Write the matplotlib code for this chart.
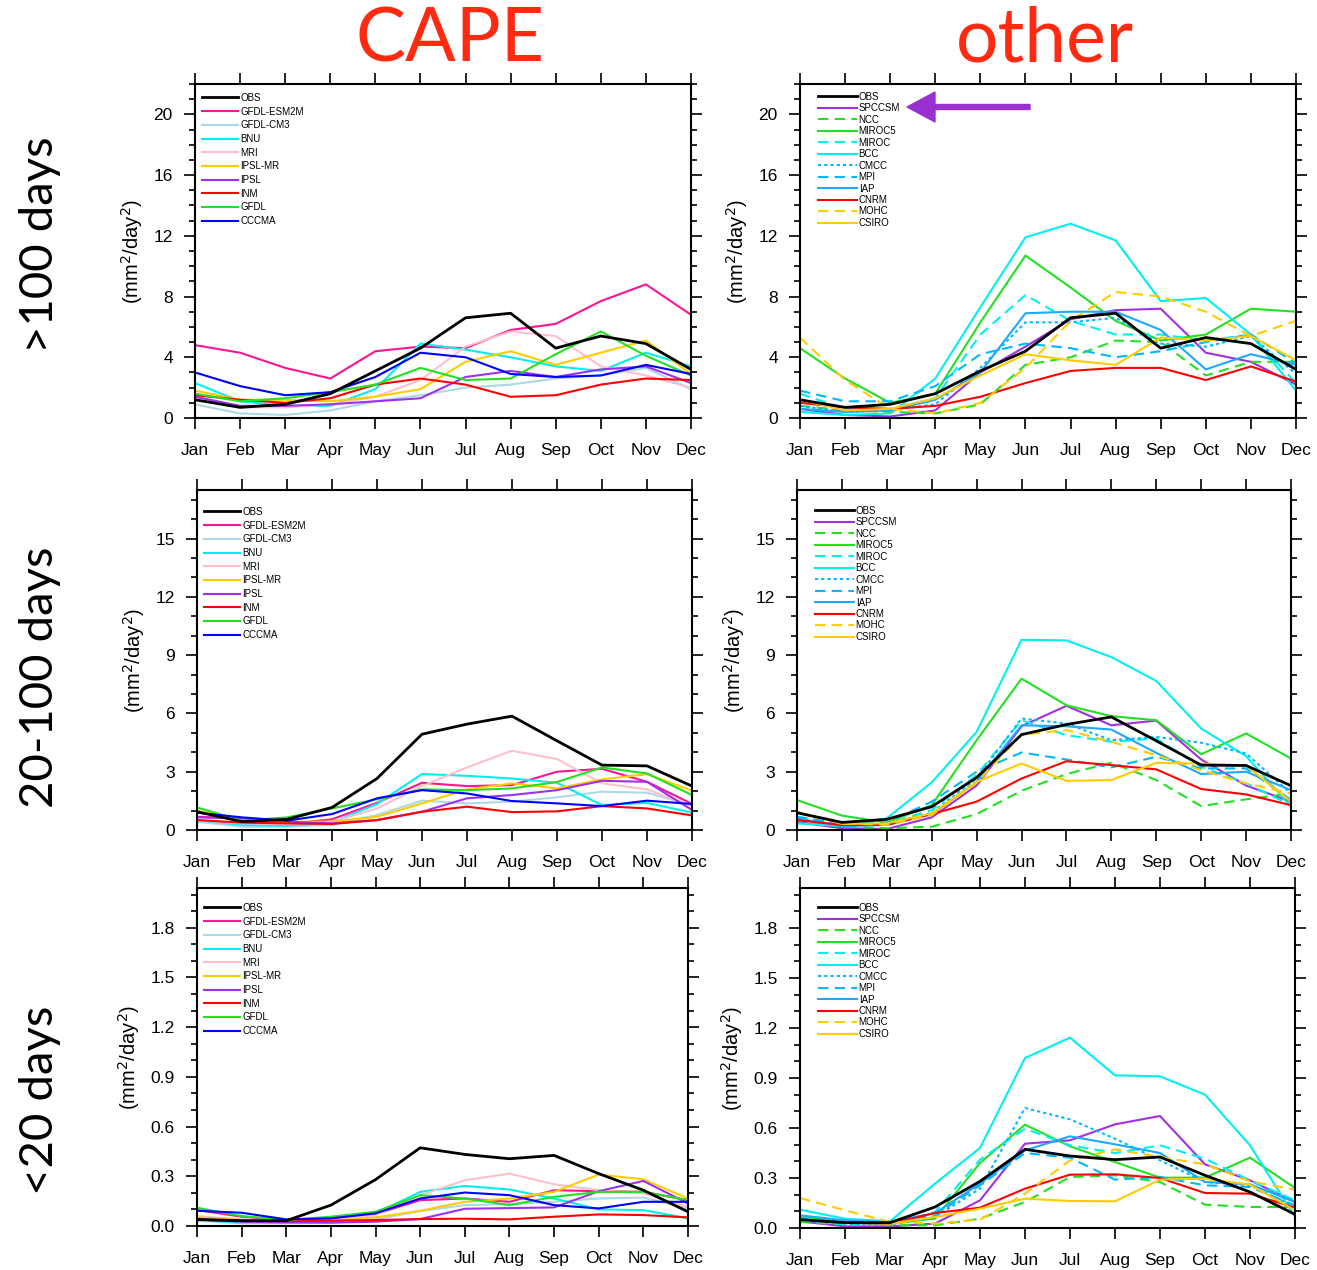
import numpy as np
import matplotlib.pyplot as plt
from matplotlib.ticker import MultipleLocator

months = ["Jan", "Feb", "Mar", "Apr", "May", "Jun", "Jul", "Aug", "Sep", "Oct", "Nov", "Dec"]

# ---- CAPE models, >100 days
cape_long = {
    "OBS":        [1.2, 0.7, 0.9, 1.6, 3.1, 4.6, 6.6, 6.9, 4.6, 5.4, 4.9, 3.2],
    "GFDL-ESM2M": [4.8, 4.3, 3.3, 2.6, 4.4, 4.7, 4.6, 5.8, 6.2, 7.7, 8.8, 6.8],
    "GFDL-CM3":   [0.9, 0.3, 0.2, 0.5, 1.1, 1.5, 2.0, 2.2, 2.6, 2.8, 3.3, 1.9],
    "BNU":        [2.3, 1.1, 0.8, 0.8, 1.9, 4.9, 4.5, 4.0, 3.4, 3.1, 4.3, 3.4],
    "MRI":        [1.4, 0.7, 0.7, 0.9, 1.4, 2.5, 4.7, 5.7, 5.4, 3.4, 2.8, 2.0],
    "IPSL-MR":    [1.8, 1.2, 1.2, 1.1, 1.4, 1.9, 3.7, 4.4, 3.5, 4.3, 5.1, 2.9],
    "IPSL":       [1.4, 0.8, 0.8, 0.9, 1.1, 1.3, 2.7, 3.1, 2.7, 3.2, 3.4, 2.3],
    "INM":        [1.5, 1.2, 1.0, 1.3, 2.2, 2.6, 2.2, 1.4, 1.5, 2.2, 2.6, 2.5],
    "GFDL":       [1.6, 1.1, 1.3, 1.7, 2.2, 3.3, 2.5, 2.6, 4.2, 5.7, 4.1, 2.8],
    "CCCMA":      [3.0, 2.1, 1.5, 1.7, 2.7, 4.3, 4.0, 2.9, 2.7, 2.8, 3.5, 2.9],
}
# ---- other models, >100 days
other_long = {
    "OBS":    [1.2, 0.7, 0.9, 1.6, 3.1, 4.4, 6.6, 6.9, 4.6, 5.3, 4.9, 3.2],
    "SPCCSM": [0.6, 0.2, 0.1, 0.5, 3.0, 4.7, 6.5, 7.1, 7.2, 4.3, 3.7, 2.2],
    "NCC":    [0.8, 0.5, 0.4, 0.3, 0.9, 3.5, 4.0, 5.1, 5.0, 2.8, 3.7, 3.7],
    "MIROC5": [4.6, 2.6, 1.0, 1.6, 6.3, 10.7, 8.6, 6.4, 5.1, 5.5, 7.2, 7.0],
    "MIROC":  [1.6, 0.6, 0.6, 1.3, 5.5, 8.1, 6.4, 5.5, 5.5, 5.1, 5.5, 2.3],
    "BCC":    [0.4, 0.2, 0.3, 2.6, 7.3, 11.9, 12.8, 11.7, 7.7, 7.9, 5.5, 1.8],
    "CMCC":   [0.8, 0.4, 0.5, 0.9, 3.3, 6.3, 6.3, 6.6, 4.9, 4.7, 5.4, 2.9],
    "MPI":    [1.8, 1.1, 1.1, 2.1, 4.2, 4.9, 4.6, 4.0, 4.4, 5.0, 5.5, 3.6],
    "IAP":    [0.6, 0.4, 0.5, 1.2, 3.0, 6.9, 7.0, 7.0, 5.8, 3.2, 4.2, 3.5],
    "CNRM":   [1.0, 0.7, 0.6, 0.8, 1.4, 2.3, 3.1, 3.3, 3.3, 2.5, 3.4, 2.4],
    "MOHC":   [5.3, 2.5, 0.6, 0.3, 1.0, 3.3, 6.4, 8.3, 8.0, 7.0, 5.4, 6.4],
    "CSIRO":  [1.2, 0.5, 0.6, 1.3, 2.8, 4.2, 3.8, 3.5, 5.3, 5.1, 5.4, 3.8],
}

# ---- 20-100 days
cape_mid = {
    "OBS":        [0.94, 0.43, 0.55, 1.16, 2.65, 4.93, 5.45, 5.86, 4.59, 3.34, 3.30, 2.26],
    "GFDL-ESM2M": [0.68, 0.60, 0.31, 0.55, 1.40, 2.43, 2.26, 2.31, 3.00, 3.15, 2.48, 1.34],
    "GFDL-CM3":   [0.43, 0.17, 0.17, 0.26, 0.77, 1.51, 1.37, 1.46, 1.68, 1.97, 1.92, 1.28],
    "BNU":        [0.51, 0.26, 0.22, 0.38, 1.34, 2.88, 2.79, 2.65, 2.43, 1.28, 1.40, 0.89],
    "MRI":        [0.51, 0.34, 0.31, 0.43, 1.11, 2.26, 3.22, 4.08, 3.65, 2.40, 2.09, 1.23],
    "IPSL-MR":    [0.99, 0.51, 0.43, 0.43, 0.68, 1.37, 2.09, 2.40, 2.14, 2.60, 2.88, 2.02],
    "IPSL":       [0.65, 0.60, 0.43, 0.34, 0.51, 0.94, 1.63, 1.80, 2.05, 2.53, 2.48, 1.03],
    "INM":        [0.51, 0.38, 0.34, 0.31, 0.51, 0.94, 1.20, 0.92, 0.96, 1.23, 1.11, 0.75],
    "GFDL":       [1.16, 0.48, 0.65, 1.11, 1.58, 2.09, 2.05, 2.14, 2.47, 3.22, 2.91, 1.80],
    "CCCMA":      [0.89, 0.65, 0.48, 0.82, 1.63, 2.05, 1.88, 1.49, 1.37, 1.23, 1.51, 1.34],
}
other_mid = {
    "OBS":    [0.89, 0.39, 0.55, 1.20, 2.70, 4.91, 5.43, 5.82, 4.59, 3.34, 3.32, 2.28],
    "SPCCSM": [0.41, 0.09, 0.05, 0.65, 2.29, 5.34, 6.39, 5.39, 5.63, 3.63, 2.29, 1.46],
    "NCC":    [0.51, 0.17, 0.09, 0.17, 0.82, 2.02, 2.88, 3.46, 2.57, 1.23, 1.58, 1.88],
    "MIROC5": [1.54, 0.74, 0.38, 1.28, 4.62, 7.79, 6.42, 5.86, 5.65, 3.90, 4.97, 3.68],
    "MIROC":  [0.68, 0.31, 0.31, 1.03, 2.83, 5.65, 4.88, 4.54, 4.71, 3.25, 2.40, 1.28],
    "BCC":    [0.34, 0.20, 0.60, 2.45, 5.05, 9.79, 9.76, 8.90, 7.67, 5.22, 3.80, 1.20],
    "CMCC":   [0.55, 0.26, 0.31, 0.89, 2.65, 5.74, 5.48, 4.62, 4.79, 4.49, 3.94, 1.88],
    "MPI":    [0.68, 0.31, 0.38, 1.46, 3.00, 3.99, 3.63, 3.22, 3.77, 3.17, 3.17, 1.54],
    "IAP":    [0.60, 0.20, 0.26, 0.82, 2.48, 5.39, 5.34, 5.17, 3.97, 2.88, 3.00, 2.05],
    "CNRM":   [0.51, 0.26, 0.26, 0.82, 1.46, 2.65, 3.54, 3.34, 3.12, 2.11, 1.83, 1.28],
    "MOHC":   [0.89, 0.34, 0.26, 0.77, 2.43, 4.91, 5.14, 4.54, 3.85, 3.08, 2.40, 1.88],
    "CSIRO":  [0.94, 0.31, 0.34, 0.86, 2.48, 3.42, 2.53, 2.57, 3.46, 3.42, 3.32, 1.46],
}

# ---- <20 days
cape_short = {
    "OBS":        [0.040, 0.032, 0.032, 0.126, 0.280, 0.472, 0.432, 0.406, 0.426, 0.316, 0.216, 0.086],
    "GFDL-ESM2M": [0.096, 0.056, 0.036, 0.040, 0.072, 0.156, 0.166, 0.146, 0.216, 0.210, 0.206, 0.156],
    "GFDL-CM3":   [0.032, 0.016, 0.016, 0.020, 0.040, 0.090, 0.126, 0.132, 0.146, 0.166, 0.172, 0.106],
    "BNU":        [0.036, 0.020, 0.020, 0.026, 0.076, 0.206, 0.242, 0.220, 0.166, 0.100, 0.096, 0.046],
    "MRI":        [0.060, 0.040, 0.026, 0.036, 0.066, 0.186, 0.276, 0.316, 0.252, 0.216, 0.196, 0.116],
    "IPSL-MR":    [0.052, 0.036, 0.032, 0.032, 0.052, 0.092, 0.146, 0.166, 0.206, 0.310, 0.282, 0.166],
    "IPSL":       [0.040, 0.026, 0.022, 0.020, 0.026, 0.042, 0.104, 0.108, 0.112, 0.210, 0.272, 0.136],
    "INM":        [0.036, 0.032, 0.030, 0.032, 0.036, 0.042, 0.044, 0.040, 0.056, 0.070, 0.066, 0.052],
    "GFDL":       [0.110, 0.060, 0.036, 0.056, 0.086, 0.186, 0.166, 0.126, 0.176, 0.206, 0.206, 0.156],
    "CCCMA":      [0.092, 0.080, 0.040, 0.046, 0.076, 0.166, 0.202, 0.186, 0.126, 0.106, 0.146, 0.146],
}
other_short = {
    "OBS":    [0.050, 0.032, 0.032, 0.126, 0.280, 0.472, 0.432, 0.410, 0.426, 0.316, 0.216, 0.082],
    "SPCCSM": [0.040, 0.010, 0.010, 0.026, 0.166, 0.506, 0.526, 0.622, 0.672, 0.382, 0.286, 0.156],
    "NCC":    [0.036, 0.022, 0.016, 0.016, 0.056, 0.156, 0.306, 0.316, 0.276, 0.140, 0.126, 0.126],
    "MIROC5": [0.070, 0.036, 0.026, 0.056, 0.390, 0.620, 0.490, 0.396, 0.302, 0.302, 0.422, 0.240],
    "MIROC":  [0.046, 0.022, 0.020, 0.096, 0.410, 0.596, 0.496, 0.450, 0.496, 0.416, 0.286, 0.166],
    "BCC":    [0.110, 0.056, 0.040, 0.266, 0.480, 1.020, 1.142, 0.916, 0.910, 0.800, 0.496, 0.066],
    "CMCC":   [0.046, 0.026, 0.022, 0.066, 0.236, 0.720, 0.652, 0.536, 0.406, 0.276, 0.256, 0.126],
    "MPI":    [0.056, 0.036, 0.030, 0.076, 0.256, 0.450, 0.422, 0.290, 0.306, 0.256, 0.246, 0.136],
    "IAP":    [0.076, 0.046, 0.036, 0.090, 0.266, 0.466, 0.550, 0.502, 0.450, 0.276, 0.262, 0.156],
    "CNRM":   [0.050, 0.032, 0.026, 0.090, 0.122, 0.236, 0.320, 0.322, 0.300, 0.210, 0.206, 0.122],
    "MOHC":   [0.180, 0.106, 0.036, 0.026, 0.050, 0.206, 0.406, 0.472, 0.426, 0.382, 0.280, 0.230],
    "CSIRO":  [0.046, 0.032, 0.026, 0.066, 0.116, 0.176, 0.162, 0.160, 0.290, 0.296, 0.260, 0.106],
}

# line styles (colour, dash)
cape_style = {
    "OBS": ("black", "-"), "GFDL-ESM2M": ("#FF1493", "-"), "GFDL-CM3": ("#ADD8E6", "-"),
    "BNU": ("#00F0F0", "-"), "MRI": ("#FFC0CB", "-"), "IPSL-MR": ("#FFCC00", "-"),
    "IPSL": ("#A030F0", "-"), "INM": ("#FF0000", "-"), "GFDL": ("#22E022", "-"),
    "CCCMA": ("#0000FF", "-"),
}
other_style = {
    "OBS": ("black", "-"), "SPCCSM": ("#A030E0", "-"), "NCC": ("#22E022", (0, (5, 3))),
    "MIROC5": ("#22E022", "-"), "MIROC": ("#00F0F0", (0, (5, 3))), "BCC": ("#00F0F0", "-"),
    "CMCC": ("#00B8FF", (0, (1.5, 1.5))), "MPI": ("#00B8FF", (0, (5, 3))), "IAP": ("#1EA8FF", "-"),
    "CNRM": ("#FF0000", "-"), "MOHC": ("#FFCC00", (0, (5, 3))), "CSIRO": ("#FFCC00", "-"),
}

W, H = 1317, 1270
fig = plt.figure(figsize=(W / 100, H / 100), dpi=100)
plt.rcParams['font.family'] = ['Liberation Sans', 'DejaVu Sans']

# (left, right, top, bottom) in pixels, ymax, major, minor, data, style, legend offset (dx, dy) px
panels = [
    ((195, 691, 84, 418), 22, 4, 1, cape_long, cape_style, (3, 5)),
    ((800, 1296, 84, 418), 22, 4, 1, other_long, other_style, (14, 4)),
    ((197, 692, 490, 830), 17.5, 3, 1, cape_mid, cape_style, (3, 13)),
    ((797, 1291, 490, 830), 17.5, 3, 1, other_mid, other_style, (14, 12)),
    ((197, 688, 888, 1226), 2.04, 0.3, 0.1, cape_short, cape_style, (3, 11)),
    ((800, 1295, 888, 1228), 2.04, 0.3, 0.1, other_short, other_style, (14, 11)),
]

x = np.arange(12)
for i, (box, ymax, major, minor, data, style, off) in enumerate(panels):
    l, r, t, b = box
    ax = fig.add_axes([l / W, 1 - b / H, (r - l) / W, (b - t) / H])
    for name, vals in data.items():
        c, ls = style[name]
        lw = 2.0 if name == "OBS" else 1.5
        ax.plot(x, vals, color=c, linestyle=ls, lw=lw, label=name, zorder=3 if name == "OBS" else 2)
    ax.set_xlim(0, 11)
    ax.set_ylim(0, ymax)
    ax.set_xticks(x)
    ax.set_xticklabels(months)
    ax.yaxis.set_major_locator(MultipleLocator(major))
    ax.yaxis.set_minor_locator(MultipleLocator(minor))
    ax.tick_params(which='both', direction='out', top=True, right=True, width=1.2,
                   labelsize=12.5)
    ax.tick_params(axis='x', pad=10)
    ax.tick_params(axis='y', pad=8)
    ax.tick_params(which='major', length=8)
    ax.tick_params(which='minor', length=4)
    ax.tick_params(axis='x', which='minor', bottom=False, top=False)
    for s in ax.spines.values():
        s.set_linewidth(1.5)
    ax.set_ylabel("(mm$^2$/day$^2$)", fontsize=14.5, labelpad=6)
    anchor = (off[0] / (r - l), 1 - off[1] / (b - t))
    if i % 2 == 0:
        ax.legend(loc='upper left', bbox_to_anchor=anchor, frameon=False,
                  fontsize=7, handlelength=3.7, handletextpad=0.25, labelspacing=0.38,
                  borderaxespad=0.0)
    else:
        ax.legend(loc='upper left', bbox_to_anchor=anchor, frameon=False,
                  fontsize=7, handlelength=4.0, handletextpad=0.2, labelspacing=0.15,
                  borderaxespad=0.0)

# column titles and row labels
title_font = ['Lato', 'DejaVu Sans']
fig.text(450 / W, 1 - 40 / H, "CAPE", color="#FF2A10", fontsize=54, ha='center', va='center',
         family=title_font)
fig.text(1045 / W, 1 - 40 / H, "other", color="#FF2A10", fontsize=54, ha='center', va='center',
         family=title_font)
for label, yc in [(">100 days", 245), ("20-100 days", 677), ("<20 days", 1100)]:
    fig.text(40 / W, 1 - yc / H, label, rotation=90, fontsize=34, ha='center', va='center',
             family=title_font)

# arrow pointing at SPCCSM
fig.patches.append(plt.matplotlib.patches.FancyArrow(
    1030 / W, 1 - 107 / H, -95 / W, 0, width=5 / H, head_width=30 / H, head_length=28 / W,
    length_includes_head=False, color="#9B30D0", transform=fig.transFigure, figure=fig))

fig.savefig("out.png", dpi=100)
